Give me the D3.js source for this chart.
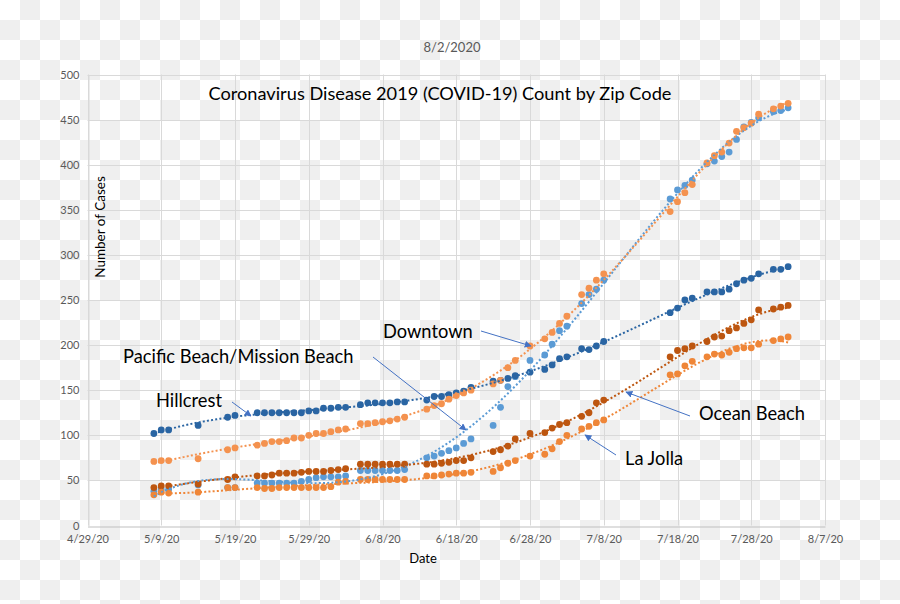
<!DOCTYPE html>
<html><head><meta charset="utf-8">
<script src="https://cdn.jsdelivr.net/npm/d3@7"></script>
<style>html,body{margin:0;padding:0;background:#fff}svg{display:block}</style>
</head><body>
<svg id="chart" width="900" height="604"></svg>
<script>
// ---------- DATA ----------
const dates = ["5/8/20","5/9/20","5/10/20","5/14/20","5/18/20","5/19/20",
"5/22/20","5/23/20","5/24/20","5/25/20","5/26/20","5/27/20","5/28/20","5/29/20","5/30/20","5/31/20","6/1/20","6/2/20","6/3/20",
"6/5/20","6/6/20","6/7/20","6/8/20","6/9/20","6/10/20","6/11/20",
"6/14/20","6/15/20","6/16/20","6/17/20","6/18/20","6/19/20","6/20/20",
"6/23/20","6/24/20","6/25/20","6/26/20","6/28/20",
"6/30/20","7/1/20","7/2/20","7/3/20","7/5/20","7/6/20","7/7/20","7/8/20",
"7/17/20","7/18/20","7/19/20","7/20/20",
"7/22/20","7/23/20","7/24/20","7/25/20","7/26/20","7/27/20","7/28/20","7/29/20",
"7/31/20","8/1/20","8/2/20"];

const hillcrest = [102,106,106,111,120,122,
125,125,125,125,125,125,125,127,127,130,130,131,131,
134,136,136,136,136,137,137,
139,143,143,145,147,149,153,
160,161,163,166,170,
173,178,185,187,196,195,199,204,
236,241,250,252,
259,259,259,262,268,272,274,279,
284,284,287];

const downtown = [71,72,72,74,84,86,
89,91,93,93,94,97,97,100,102,102,104,106,107,
113,113,114,115,116,118,120,
129,133,135,140,144,147,150,
157,161,175,183,199,
207,214,224,232,256,263,272,279,
348,359,369,378,
402,410,414,424,437,441,446,456,
462,465,468];

const pacificMission = [38,40,40,45,42,42,
47,47,47,47,47,47,49,51,53,54,54,54,55,
61,61,61,61,61,61,62,
75,77,80,83,86,91,96,
111,131,154,165,183,
189,201,216,221,246,256,262,272,
362,372,377,383,
401,404,409,414,428,442,447,452,
459,460,463];

const oceanBeach = [42,44,44,46,51,54,
55,55,56,58,58,58,59,60,60,60,61,62,63,
68,68,68,68,68,68,68,
68,68,69,70,72,72,75,
82,84,88,96,102,
103,108,112,114,121,125,136,139,
187,194,196,199,
204,209,210,216,219,224,228,239,
240,242,244];

const laJolla = [34,37,36,37,42,42,
42,41,41,42,42,42,42,42,42,42,43,48,49,
51,51,51,51,51,51,51,
55,55,56,57,58,58,59,
60,64,69,72,77,
79,85,93,100,107,110,114,117,
167,168,177,182,
187,190,189,192,196,197,197,201,
205,207,209];

const xTickLabels = ["4/29/20","5/9/20","5/19/20","5/29/20","6/8/20","6/18/20","6/28/20","7/8/20","7/18/20","7/28/20","8/7/20"];
const yTicks = [0,50,100,150,200,250,300,350,400,450,500];

const seriesNames = ["Pacific Beach/Mission Beach","Hillcrest","Downtown","Ocean Beach","La Jolla"];
const seriesValues = [pacificMission, hillcrest, downtown, oceanBeach, laJolla];
const seriesColors = ["#5b9bd5","#2a65a3","#f4924f","#bd5610","#ef8638"];
const trendOrders = [5, 5, 5, 5, 5];

const chartTitle = "Coronavirus Disease 2019 (COVID-19) Count by Zip Code";
const dateStamp = "8/2/2020";

// ---------- HELPERS ----------
const parse = d3.utcParse("%m/%d/%y");
const svg = d3.select("#chart");
const FONT = "Lato, 'Open Sans', sans-serif";

// checkerboard (transparent background look)
const defs = svg.append("defs");
const pat = defs.append("pattern").attr("id","checker").attr("width",40).attr("height",40).attr("patternUnits","userSpaceOnUse");
pat.append("rect").attr("width",40).attr("height",40).attr("fill","#ffffff");
pat.append("rect").attr("x",20).attr("y",0).attr("width",20).attr("height",20).attr("fill","#efefef");
pat.append("rect").attr("x",0).attr("y",20).attr("width",20).attr("height",20).attr("fill","#efefef");
svg.append("rect").attr("width",900).attr("height",604).attr("fill","url(#checker)");

const marker = defs.append("marker").attr("id","arrow").attr("viewBox","0 0 10 10")
  .attr("refX",9).attr("refY",5).attr("markerWidth",7).attr("markerHeight",7)
  .attr("markerUnits","userSpaceOnUse").attr("orient","auto");
marker.append("path").attr("d","M0,0 L10,5 L0,10 z").attr("fill","#4472c4");

const x = d3.scaleUtc().domain([parse(xTickLabels[0]), parse(xTickLabels[xTickLabels.length-1])]).range([87.5, 825]);
const y = d3.scaleLinear().domain([0, 500]).range([525.5, 74.5]);

// gridlines
const grid = svg.append("g");
grid.selectAll("line.h").data(yTicks.slice(1)).join("line")
  .attr("x1", x.range()[0]).attr("x2", x.range()[1])
  .attr("y1", d=>Math.round(y(d))+0.5).attr("y2", d=>Math.round(y(d))+0.5)
  .attr("stroke","#d9d9d9").attr("stroke-width",1);
grid.selectAll("line.v").data(xTickLabels).join("line")
  .attr("x1", d=>Math.round(x(parse(d)))+0.5).attr("x2", d=>Math.round(x(parse(d)))+0.5)
  .attr("y1", y(0)).attr("y2", y(500))
  .attr("stroke","#d9d9d9").attr("stroke-width",1);

// axes via d3
const xAxis = d3.axisBottom(x).tickValues(xTickLabels.map(parse)).tickFormat(d3.utcFormat("%-m/%-d/%y")).tickSize(0).tickPadding(9);
const gx = svg.append("g").attr("transform",`translate(0,${Math.round(y(0))+0.5})`).call(xAxis);
gx.select(".domain").attr("stroke","#bfbfbf");
gx.selectAll("text").attr("font-family",FONT).attr("font-size",11).attr("fill","#595959");

const yAxis = d3.axisLeft(y).tickValues(yTicks).tickSize(0).tickPadding(9);
const gy = svg.append("g").attr("transform",`translate(${Math.round(x.range()[0])+0.5},0)`).call(yAxis);
gy.select(".domain").attr("stroke","#d9d9d9");
gy.selectAll("text").attr("font-family",FONT).attr("font-size",11).attr("fill","#595959");

// ---------- SERIES ----------
const dayMs = 86400000;
const t0 = parse(dates[0]).getTime();
function polyfit(xs, ys, deg){
  const n = deg+1;
  const A = Array.from({length:n},()=>new Array(n+1).fill(0));
  for(let k=0;k<xs.length;k++){
    const p = [];
    for(let i=0;i<n;i++) p.push(Math.pow(xs[k],i));
    for(let i=0;i<n;i++){ for(let j=0;j<n;j++) A[i][j]+=p[i]*p[j]; A[i][n]+=p[i]*ys[k]; }
  }
  for(let i=0;i<n;i++){
    let mx=i; for(let r=i+1;r<n;r++) if(Math.abs(A[r][i])>Math.abs(A[mx][i])) mx=r;
    [A[i],A[mx]]=[A[mx],A[i]];
    for(let r=0;r<n;r++){ if(r===i) continue; const f=A[r][i]/A[i][i]; for(let c=i;c<=n;c++) A[r][c]-=f*A[i][c]; }
  }
  return A.map((row,i)=>row[n]/row[i]);
}
const tDates = dates.map(parse);
const tNorm = tDates.map(d => (d.getTime()-t0)/dayMs/86 * 2 - 1);

const gMarks = svg.append("g");
const gTrend = svg.append("g");
seriesValues.forEach((vals, si) => {
  const col = seriesColors[si];
  const pts = tDates.map((d,i)=>({d, v: vals[i], t: tNorm[i]}));
  gMarks.append("g").selectAll("circle").data(pts).join("circle")
    .attr("cx", p=>x(p.d)).attr("cy", p=>y(p.v)).attr("r",3.4).attr("fill",col);
  // polynomial trendline fitted to the series
  const coef = polyfit(tNorm, vals, trendOrders[si]);
  const tr = d3.range(0, 86.01, 0.5).map(dd => {
    const tt = dd/86*2-1;
    return {d: new Date(t0 + dd*dayMs), v: coef.reduce((s,c,i)=>s+c*Math.pow(tt,i),0)};
  });
  gTrend.append("path").datum(tr)
    .attr("d", d3.line().x(p=>x(p.d)).y(p=>y(p.v)).curve(d3.curveLinear))
    .attr("fill","none").attr("stroke",col).attr("stroke-width",2).attr("stroke-dasharray","2,2.2");
});

// ---------- TEXT ----------
svg.append("text").attr("x",452).attr("y",52).attr("text-anchor","middle")
  .attr("font-family",FONT).attr("font-size",13).attr("fill","#595959").text(dateStamp);
svg.append("text").attr("x",440).attr("y",100).attr("text-anchor","middle")
  .attr("font-family",FONT).attr("font-size",18.2).attr("fill","#000").text(chartTitle);
svg.append("text").attr("x",423).attr("y",563).attr("text-anchor","middle")
  .attr("font-family",FONT).attr("font-size",13).attr("fill","#000").text("Date");
svg.append("text").attr("transform","translate(105,227) rotate(-90)").attr("text-anchor","middle")
  .attr("font-family",FONT).attr("font-size",13.5).attr("fill","#000").text("Number of Cases");

// annotations
const annotations = [
  {name:"Downtown", tx:383, ty:338, a:[481,331, 531,346]},
  {name:"Pacific Beach/Mission Beach", tx:123, ty:363, a:[373,357, 466,430]},
  {name:"Hillcrest", tx:156, ty:407, a:[232,402, 251,416]},
  {name:"Ocean Beach", tx:699, ty:420, a:[690,416, 626,392]},
  {name:"La Jolla", tx:625, ty:465, a:[616,455, 585,435]}
];
const gAnn = svg.append("g");
annotations.forEach(a => {
  gAnn.append("text").attr("x",a.tx).attr("y",a.ty).attr("font-family",FONT).attr("font-size",18.3)
    .attr("fill","#000").text(a.name);
  gAnn.append("line").attr("x1",a.a[0]).attr("y1",a.a[1]).attr("x2",a.a[2]).attr("y2",a.a[3])
    .attr("stroke","#4472c4").attr("stroke-width",1).attr("marker-end","url(#arrow)");
});
</script>
</body></html>
